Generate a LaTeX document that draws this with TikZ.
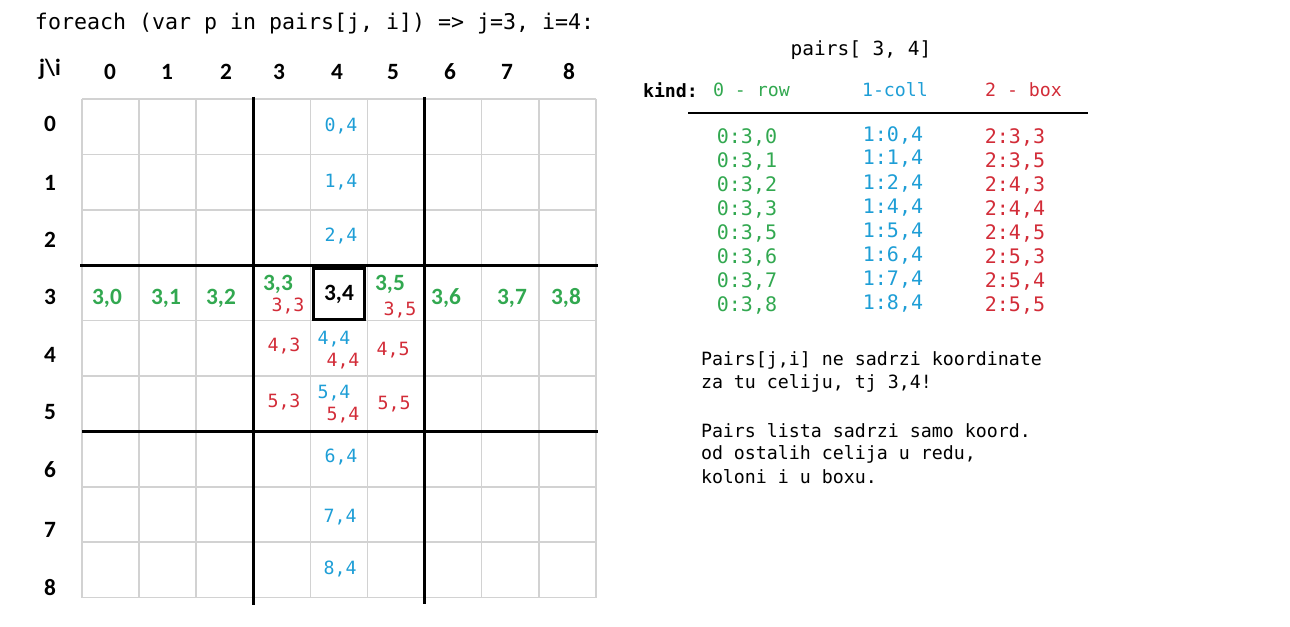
\documentclass[tikz,border=0pt]{standalone}
\usepackage{fontspec}
\setmainfont{Carlito}
\setmonofont{DejaVu Sans Mono}
\definecolor{rowgreen}{RGB}{50,168,80}
\definecolor{colblue}{RGB}{30,158,214}
\definecolor{boxred}{RGB}{210,44,56}

\begin{document}
\begin{tikzpicture}[x=0.75pt, y=-0.75pt,
    every node/.style={inner sep=0pt, outer sep=0pt},
    hdr/.style={font=\fontsize{17.5}{20}\selectfont\bfseries},
    rowtxt/.style={hdr, text=rowgreen},
    coltxt/.style={font=\fontsize{13.7}{16}\selectfont\ttfamily, text=colblue},
    boxtxt/.style={font=\fontsize{13.7}{16}\selectfont\ttfamily, text=boxred},
    mono/.style={font=\fontsize{13.7}{16}\selectfont\ttfamily, anchor=west},
    gridline/.style={draw=gray!35, line width=1.1pt},
    blockline/.style={draw=black, line width=2.3pt}]
    \useasboundingbox (0,0) rectangle (1290,627);

    % Naslov
    \node[font=\fontsize{16.2}{19}\selectfont\ttfamily, anchor=west] (naslov) at (35,24) {foreach (var p in pairs[j, i]) => j=3, i=4:};

    % Mreza
    \foreach \k in {0,...,9} {
        \draw[gridline] ({82+57.1*\k},99) -- ({82+57.1*\k},598);
        \draw[gridline] (82,{99+55.4*\k}) -- (596,{99+55.4*\k});
    }
    \draw[blockline] (253.3,97) -- (253.3,605);
    \draw[blockline] (424.6,97) -- (424.6,604);
    \draw[blockline] (80,265.2) -- (598,265.2);
    \draw[blockline] (82,431.4) -- (598,431.4);

    % Oznake kolona i redova
    \node[hdr] (ji) at (50,69) {j\textbackslash i};
    \foreach \x [count=\c from 0] in {110,167,226,279,337,393,450,507,569}
        \node[hdr] (kol\c) at (\x,72) {\c};
    \foreach \y [count=\r from 0] in {124,183,240,297,355,412,470,530,588}
        \node[hdr] (red\r) at (50,\y) {\r};

    % Red 3 (zeleno)
    \node[rowtxt] (r30) at (107,298) {3,0};
    \node[rowtxt] (r31) at (166,298) {3,1};
    \node[rowtxt] (r32) at (221,298) {3,2};
    \node[rowtxt] (r33) at (278,284) {3,3};
    \node[rowtxt] (r35) at (390,284) {3,5};
    \node[rowtxt] (r36) at (446,298) {3,6};
    \node[rowtxt] (r37) at (512,298) {3,7};
    \node[rowtxt] (r38) at (566,298) {3,8};

    % Kolona 4 (plavo)
    \node[coltxt] (c04) at (341,126) {0,4};
    \node[coltxt] (c14) at (341,182) {1,4};
    \node[coltxt] (c24) at (341,236) {2,4};
    \node[coltxt] (c44) at (334,339) {4,4};
    \node[coltxt] (c54) at (334,393) {5,4};
    \node[coltxt] (c64) at (341,457) {6,4};
    \node[coltxt] (c74) at (340,517) {7,4};
    \node[coltxt] (c84) at (340,569) {8,4};

    % Box (crveno)
    \node[boxtxt] (b33) at (288,306) {3,3};
    \node[boxtxt] (b35) at (400,310) {3,5};
    \node[boxtxt] (b43) at (284,346) {4,3};
    \node[boxtxt] (b44) at (343,361) {4,4};
    \node[boxtxt] (b45) at (393,350) {4,5};
    \node[boxtxt] (b53) at (284,402) {5,3};
    \node[boxtxt] (b54) at (343,415) {5,4};
    \node[boxtxt] (b55) at (394,404) {5,5};

    % Trenutna celija
    \node[draw, line width=2.6pt, minimum width=38.5pt, minimum height=38.5pt, hdr] (cur) at (339,294) {3,4};

    % Lista pairs[3,4]
    \node[font=\fontsize{14.6}{17}\selectfont\ttfamily] (pairs) at (861,50) {pairs[ 3, 4]};
    \node[mono, font=\fontsize{13.7}{16}\selectfont\ttfamily\bfseries] (kind) at (643,90) {kind:};
    \node[mono, text=rowgreen] (krow) at (713,90) {0 - row};
    \node[mono, text=colblue] (kcol) at (862,90) {1-coll};
    \node[mono, text=boxred] (kbox) at (985,90) {2 - box};
    \coordinate (crtaA) at (688,113);
    \coordinate (crtaB) at (1088,113);
    \draw[line width=2.2pt] (crtaA) -- (crtaB);

    \foreach \g/\b/\p/\q [count=\n from 0] in {0/0/3/3, 1/1/3/5, 2/2/4/3, 3/4/4/4, 5/5/4/5, 6/6/5/3, 7/7/5/4, 8/8/5/5} {
        \node[font=\fontsize{15}{18}\selectfont\ttfamily, text=rowgreen] (g\n) at (747,{137+24.1*\n}) {0:3,\g};
        \node[font=\fontsize{15}{18}\selectfont\ttfamily, text=colblue] (p\n) at (893,{135+24.1*\n}) {1:\b,4};
        \node[font=\fontsize{15}{18}\selectfont\ttfamily, text=boxred] (k\n) at (1015,{137+24.1*\n}) {2:\p,\q};
    }

    % Napomena
    \node[mono] (nap1) at (701,360) {Pairs[j,i] ne sadrzi koordinate};
    \node[mono] (nap2) at (701,383) {za tu celiju, tj 3,4!};
    \node[mono] (nap3) at (701,431) {Pairs lista sadrzi samo koord.};
    \node[mono] (nap4) at (701,454) {od ostalih celija u redu,};
    \node[mono] (nap5) at (701,477) {koloni i u boxu.};
\end{tikzpicture}
\end{document}
